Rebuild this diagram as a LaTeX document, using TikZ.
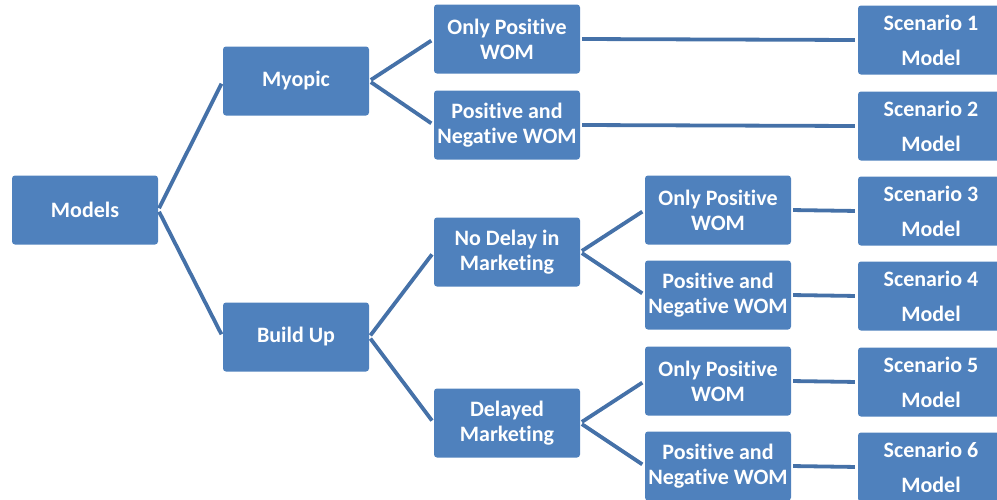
\documentclass[tikz,border=0pt]{standalone}
\usepackage{fontspec}
\setmainfont{Carlito}[Ligatures=NoCommon]
\begin{document}
\definecolor{boxblue}{HTML}{4F81BD}
\definecolor{linkblue}{HTML}{4571A8}
\begin{tikzpicture}[x=1pt,y=-1pt,
  box/.style={rectangle, rounded corners=3pt, fill=boxblue, text=white,
    minimum width=146pt, minimum height=69pt, inner sep=0pt, align=center,
    font=\fontsize{22}{25}\selectfont\bfseries},
  scen/.style={box, font=\fontsize{22}{35}\selectfont\bfseries},
  link/.style={draw=linkblue, line width=3.8pt, shorten >=3pt, shorten <=2pt}]
\useasboundingbox (0,0) rectangle (997,499);
\clip (0,0) rectangle (997,499);
% root and first split
\node[box] (models) at (85,210) {Models};
\node[box] (myopic) at (296,81) {Myopic};
\node[box] (build) at (296,337) {Build Up};
% myopic branch
\node[box] (mopw) at (507,39) {Only Positive\\WOM};
\node[box] (mpn) at (507,125) {Positive and\\Negative WOM};
% build-up branch
\node[box] (nodelay) at (507,252) {No Delay in\\Marketing};
\node[box] (delayed) at (507,423) {Delayed\\Marketing};
\node[box] (nopw) at (718,210) {Only Positive\\WOM};
\node[box] (npn) at (718,295) {Positive and\\Negative WOM};
\node[box] (dopw) at (718,381) {Only Positive\\WOM};
\node[box] (dpn) at (718,466) {Positive and\\Negative WOM};
% scenario models
\node[scen] (s1) at (931,40) {Scenario 1\\Model};
\node[scen] (s2) at (931,126) {Scenario 2\\Model};
\node[scen] (s3) at (931,211) {Scenario 3\\Model};
\node[scen] (s4) at (931,296) {Scenario 4\\Model};
\node[scen] (s5) at (931,382) {Scenario 5\\Model};
\node[scen] (s6) at (931,467) {Scenario 6\\Model};
% connectors
\draw[link] (models.east) -- (myopic.west);
\draw[link] (models.east) -- (build.west);
\draw[link] (myopic.east) -- (mopw.west);
\draw[link] (myopic.east) -- (mpn.west);
\draw[link] (build.east) -- (nodelay.west);
\draw[link] (build.east) -- (delayed.west);
\draw[link] (nodelay.east) -- (nopw.west);
\draw[link] (nodelay.east) -- (npn.west);
\draw[link] (delayed.east) -- (dopw.west);
\draw[link] (delayed.east) -- (dpn.west);
\draw[link] (mopw.east) -- (s1.west);
\draw[link] (mpn.east) -- (s2.west);
\draw[link] (nopw.east) -- (s3.west);
\draw[link] (npn.east) -- (s4.west);
\draw[link] (dopw.east) -- (s5.west);
\draw[link] (dpn.east) -- (s6.west);
\end{tikzpicture}
\end{document}
